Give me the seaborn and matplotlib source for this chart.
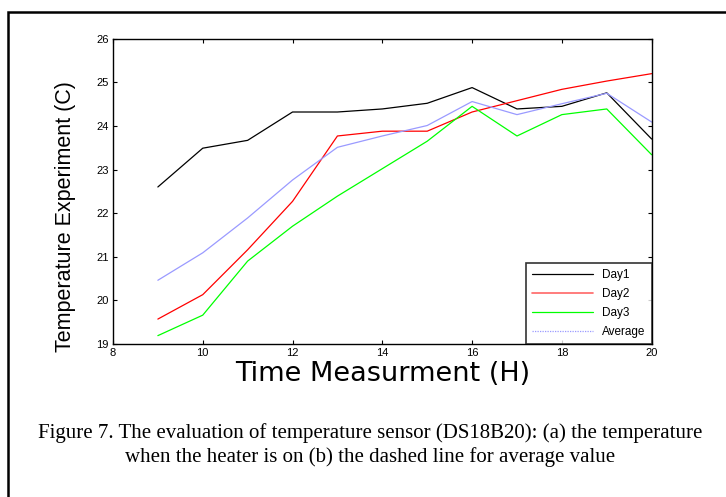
import numpy as np
import pandas as pd
import matplotlib
matplotlib.use("Agg")
import matplotlib.pyplot as plt
import seaborn as sns
from matplotlib.lines import Line2D
from matplotlib.patches import Rectangle

# data
hours = [9, 10, 11, 12, 13, 14, 15, 16, 17, 18, 19, 20]
day1 = [22.60, 23.49, 23.67, 24.32, 24.32, 24.39, 24.52, 24.88, 24.39, 24.45, 24.76, 23.70]
day2 = [19.57, 20.13, 21.16, 22.27, 23.77, 23.88, 23.88, 24.32, 24.58, 24.84, 25.03, 25.20]
day3 = [19.19, 19.66, 20.90, 21.70, 22.39, 23.02, 23.65, 24.45, 23.77, 24.26, 24.39, 23.34]
average = [20.46, 21.09, 21.89, 22.76, 23.51, 23.77, 24.01, 24.56, 24.26, 24.51, 24.75, 24.09]

series_names = ["Day1", "Day2", "Day3", "Average"]
colors = ["black", "#ff0000", "#00ff00", "#9a9aff"]

df = pd.DataFrame({
    "hour": hours * 4,
    "temp": day1 + day2 + day3 + average,
    "series": np.repeat(series_names, len(hours)),
})

sns.set_style("white")
plt.rcParams["font.family"] = ["Liberation Sans", "DejaVu Sans"]
plt.rcParams["text.color"] = "black"
plt.rcParams["axes.labelcolor"] = "black"
plt.rcParams["xtick.color"] = "black"
plt.rcParams["ytick.color"] = "black"

fig = plt.figure(figsize=(7.26, 4.97), dpi=100)
ax = fig.add_axes([0.1556, 0.308, 0.742, 0.614])

sns.lineplot(data=df, x="hour", y="temp", hue="series", hue_order=series_names,
             palette=colors, linewidth=0.9, legend=False, ax=ax)

ax.set_xlim(8, 20)
ax.set_ylim(19, 26)
ax.set_xticks(range(8, 21, 2))
ax.set_yticks(range(19, 27))
ax.tick_params(direction="in", length=3, width=0.8, labelsize=8,
               top=True, right=True, bottom=True, left=True, pad=3)
for sp in ax.spines.values():
    sp.set_color("black")
    sp.set_linewidth(1.0)

ax.set_xlabel("Time Measurment (H)", fontsize=19.5, labelpad=2,
              family=["DejaVu Sans"])
ax.set_ylabel("Temperature Experiment (C)", fontsize=15.5)
ax.yaxis.set_label_coords(-0.068, 0.416)

# legend with a dotted handle for the average
handles = [Line2D([], [], color=colors[0], lw=0.9),
           Line2D([], [], color=colors[1], lw=1.2, alpha=0.6),
           Line2D([], [], color=colors[2], lw=0.9),
           Line2D([], [], color=colors[3], lw=0.9, ls=(0, (1, 1)))]
leg = ax.legend(handles, series_names, loc="lower right", fontsize=8.5,
                frameon=True, fancybox=False, borderaxespad=0, borderpad=0.5,
                handlelength=5.2, labelspacing=0.6, handletextpad=0.8)
leg.get_frame().set_edgecolor("black")
leg.get_frame().set_linewidth(1.2)

# outer frame of the figure box
fig.patches.append(Rectangle((0.011, -0.1), 1.2, 1.076, transform=fig.transFigure,
                             fill=False, edgecolor="black", linewidth=1.8))

caption = ("Figure 7. The evaluation of temperature sensor (DS18B20): (a) the temperature\n"
           "when the heater is on (b) the dashed line for average value")
fig.text(0.510, 0.105, caption, ha="center", va="center", fontsize=15,
         family=["Liberation Serif", "DejaVu Serif"], linespacing=1.3)

fig.savefig("out.png", dpi=100)
